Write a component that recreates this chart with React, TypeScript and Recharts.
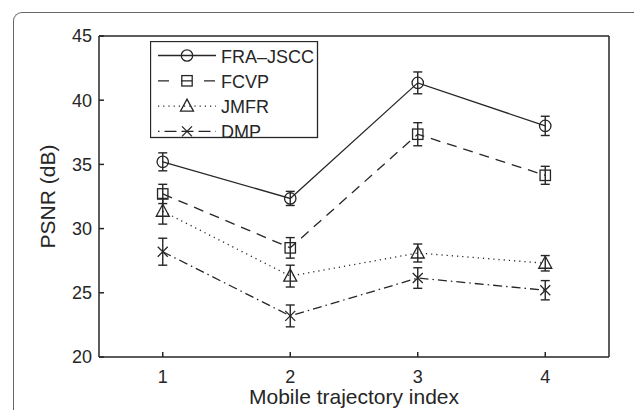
import {
  ComposedChart,
  ErrorBar,
  Line,
  XAxis,
  YAxis,
} from 'recharts'

// trajectory index on x, PSNR in dB on y
const trajectories = [1, 2, 3, 4]
const xTicks = [1, 2, 3, 4]
const yTicks = [20, 25, 30, 35, 40, 45]

const fraJscc = [35.2, 32.35, 41.35, 38.0]
const fraJsccErr = [0.7, 0.55, 0.85, 0.75]
const fcvp = [32.7, 28.5, 37.35, 34.15]
const fcvpErr = [0.75, 0.8, 0.9, 0.7]
const jmfr = [31.35, 26.3, 28.1, 27.3]
const jmfrErr = [1.0, 0.85, 0.7, 0.6]
const dmp = [28.2, 23.2, 26.15, 25.2]
const dmpErr = [1.05, 0.85, 0.8, 0.75]

const seriesNames = ['FRA\u2013JSCC', 'FCVP', 'JMFR', 'DMP']

const data = trajectories.map((t, i) => ({
  t,
  fra: fraJscc[i],
  fraErr: fraJsccErr[i],
  fcvp: fcvp[i],
  fcvpErr: fcvpErr[i],
  jmfr: jmfr[i],
  jmfrErr: jmfrErr[i],
  dmp: dmp[i],
  dmpErr: dmpErr[i],
}))

const ink = '#262626'
const font = 'Arial, "Liberation Sans", Helvetica, sans-serif'

function marker(kind: string, cx: number, cy: number, key?: string) {
  const common = { stroke: ink, strokeWidth: 1.3, fill: 'none' }
  if (kind === 'circle') return <circle key={key} cx={cx} cy={cy} r={5.7} {...common} />
  if (kind === 'square')
    return <rect key={key} x={cx - 5.2} y={cy - 5.2} width={10.4} height={10.4} {...common} />
  if (kind === 'triangle')
    return (
      <path
        key={key}
        d={`M${cx},${cy - 7} L${cx + 6.5},${cy + 5} L${cx - 6.5},${cy + 5} Z`}
        {...common}
      />
    )
  return (
    <path
      key={key}
      d={`M${cx - 5},${cy - 5} L${cx + 5},${cy + 5} M${cx - 5},${cy + 5} L${cx + 5},${cy - 5}`}
      {...common}
    />
  )
}

const styles = [
  { key: 'fra', marker: 'circle', dash: undefined, legendDash: undefined },
  { key: 'fcvp', marker: 'square', dash: '10 7', legendDash: '11 12' },
  { key: 'jmfr', marker: 'triangle', dash: '1.2 4', legendDash: '1.2 4' },
  { key: 'dmp', marker: 'cross', dash: '9 4 1.5 4', legendDash: '1.5 5 12 5 12 5 12 5 1.5' },
]

function LegendBox() {
  return (
    <svg
      width={170}
      height={100}
      style={{ position: 'absolute', left: 150, top: 41, display: 'block' }}
    >
      <rect x={0.5} y={0.5} width={167} height={96} fill="white" stroke={ink} strokeWidth={1.3} />
      {styles.map((s, i) => {
        const y = 14.5 + i * 25.3
        return (
          <g key={s.key}>
            <line x1={8} x2={66} y1={y} y2={y} stroke={ink} strokeWidth={1.3} strokeDasharray={s.legendDash} />
            {marker(s.marker, 37, y)}
            <text x={71} y={y + 7} fontSize={18} fontFamily={font} fill={ink}>
              {seriesNames[i]}
            </text>
          </g>
        )
      })}
    </svg>
  )
}

export default function App() {
  return (
    <div
      style={{
        position: 'absolute',
        left: 0,
        top: 0,
        width: 634,
        height: 410,
        background: 'white',
        overflow: 'hidden',
      }}
    >
      <div
        style={{
          position: 'absolute',
          left: 13,
          top: 12,
          width: 640,
          height: 420,
          borderTop: '1px solid #666',
          borderLeft: '1px solid #666',
          borderTopLeftRadius: 9,
        }}
      />
      <ComposedChart
        width={634}
        height={410}
        data={data}
        margin={{ top: 35, right: 24, left: 39, bottom: 13 }}
        style={{ position: 'absolute', left: 0, top: 0, fontFamily: font }}
      >
        <XAxis
          dataKey="t"
          type="number"
          domain={[0.5, 4.5]}
          ticks={xTicks}
          height={40}
          tickSize={-5}
          tickMargin={18}
          stroke={ink}
          strokeWidth={1.5}
          tick={{ fill: ink, fontSize: 18 }}
          label={{ value: 'Mobile trajectory index', position: 'center', dy: 20, fontSize: 21, fill: ink }}
        />
        <XAxis
          xAxisId="top"
          dataKey="t"
          orientation="top"
          type="number"
          domain={[0.5, 4.5]}
          ticks={xTicks}
          height={1}
          tickSize={-5}
          stroke={ink}
          strokeWidth={1.5}
          tick={false}
        />
        <YAxis
          type="number"
          domain={[20, 45]}
          ticks={yTicks}
          width={60}
          tickSize={-5}
          tickMargin={12}
          stroke={ink}
          strokeWidth={1.5}
          tick={{ fill: ink, fontSize: 18 }}
          label={{ value: 'PSNR (dB)', angle: -90, position: 'center', dx: -21, fontSize: 21, fill: ink }}
        />
        <YAxis
          yAxisId="right"
          orientation="right"
          type="number"
          domain={[20, 45]}
          ticks={yTicks}
          width={1}
          tickSize={-5}
          stroke={ink}
          strokeWidth={1.5}
          tick={false}
        />
        {styles.map((s) => (
          <Line
            key={s.key}
            dataKey={s.key}
            type="linear"
            stroke={ink}
            strokeWidth={1.3}
            strokeDasharray={s.dash}
            isAnimationActive={false}
            dot={(p: any) => marker(s.marker, p.cx, p.cy, `${s.key}-${p.index}`)}
            activeDot={false}
            legendType="none"
          >
            <ErrorBar
              dataKey={`${s.key}Err`}
              direction="y"
              width={4.5}
              stroke={ink}
              strokeWidth={1.4}
              isAnimationActive={false}
            />
          </Line>
        ))}
        {/* invisible anchor so the top/right frame axes get a domain */}
        <Line xAxisId="top" yAxisId="right" dataKey="fra" stroke="none" dot={false} activeDot={false} isAnimationActive={false} legendType="none" />
      </ComposedChart>
      <LegendBox />
    </div>
  )
}
